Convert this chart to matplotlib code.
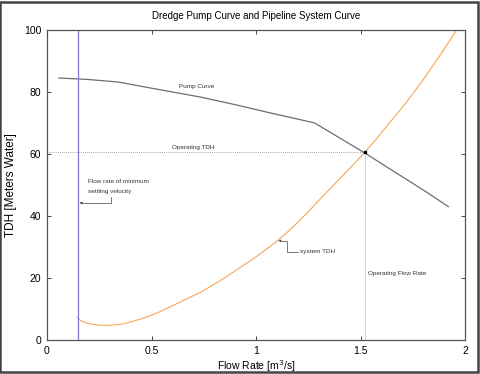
import numpy as np
import matplotlib
matplotlib.use('Agg')
import matplotlib.pyplot as plt
from matplotlib.patches import Rectangle

plt.rcParams['font.family'] = ['Liberation Sans', 'DejaVu Sans']

# pump curve
pump_q = [0.057, 0.2, 0.34, 0.5, 0.73, 0.9, 1.07, 1.28, 1.52, 1.82, 1.92]
pump_tdh = [84.5, 84.0, 83.2, 81.2, 78.4, 75.9, 73.2, 70.0, 60.3, 47.5, 43.0]

# pipeline system curve
sys_q = [0.145, 0.16, 0.18, 0.2, 0.22, 0.25, 0.28, 0.31, 0.35, 0.4, 0.45, 0.5,
         0.55, 0.6, 0.66, 0.73, 0.8, 0.86, 0.92, 1.0, 1.05, 1.1, 1.15, 1.2,
         1.25, 1.3, 1.35, 1.4, 1.46, 1.52, 1.58, 1.65, 1.72, 1.8, 1.88, 1.96]
sys_tdh = [7.2, 6.3, 5.7, 5.3, 5.0, 4.8, 4.7, 4.8, 5.0, 5.8, 6.8, 8.0,
           9.4, 11.0, 13.0, 15.2, 18.0, 20.5, 23.2, 26.8, 29.3, 31.9, 34.8, 38.0,
           41.4, 45.0, 48.5, 52.0, 56.2, 60.5, 65.2, 71.0, 76.7, 84.0, 91.8, 100.0]

min_settling_q = 0.15
op_q, op_tdh = 1.52, 60.5

fig = plt.figure(figsize=(4.81, 3.74), dpi=100)
ax = fig.add_axes([0.0977, 0.091, 0.8693, 0.829])

ax.plot(pump_q, pump_tdh, color='#6e6e6e', lw=0.9)
ax.plot(sys_q, sys_tdh, color='#f7a65a', lw=0.8)
ax.axvline(min_settling_q, color='#7b7bdc', lw=0.9)
ax.plot([0, op_q], [op_tdh, op_tdh], color='#888888', lw=0.6, ls=(0, (1, 1.5)))
ax.plot([op_q, op_q], [0, op_tdh], color='#888888', lw=0.6, ls=(0, (1, 1.5)))
ax.plot([op_q], [op_tdh], 's', color='black', ms=1.8)

fs = 4.6
ax.text(0.63, 81.6, 'Pump Curve', fontsize=fs, color='#333333', va='center')
ax.text(0.60, 62.0, 'Operating TDH', fontsize=fs, color='#333333', va='center')
ax.text(0.195, 51.0, 'Flow rate of minimum', fontsize=fs, color='#333333', va='center')
ax.text(0.195, 48.0, 'settling velocity', fontsize=fs, color='#333333', va='center')
ax.plot([0.306, 0.306, 0.165], [46.2, 44.2, 44.2], color='#444444', lw=0.5)
ax.annotate('', xy=(0.157, 44.2), xytext=(0.175, 44.2),
            arrowprops=dict(arrowstyle='-|>', color='#444444', lw=0.5,
                            mutation_scale=3))
ax.text(1.21, 28.4, 'system TDH', fontsize=fs, color='#333333', va='center')
ax.plot([1.20, 1.148, 1.148, 1.118], [28.4, 28.4, 32.0, 32.0], color='#444444', lw=0.5)
ax.annotate('', xy=(1.108, 32.0), xytext=(1.125, 32.0),
            arrowprops=dict(arrowstyle='-|>', color='#444444', lw=0.5,
                            mutation_scale=3))
ax.text(1.535, 21.3, 'Operating Flow Rate', fontsize=fs, color='#333333', va='center')

ax.set_xlim(0, 2)
ax.set_ylim(0, 100)
ax.set_xticks([0, 0.5, 1, 1.5, 2])
ax.set_xticklabels(['0', '0.5', '1', '1.5', '2'])
ax.set_yticks([0, 20, 40, 60, 80, 100])
ax.tick_params(direction='in', top=True, right=True, length=3, width=0.7,
               labelsize=7.5, colors='#444444', labelcolor='black', pad=4)
for s in ax.spines.values():
    s.set_color('#555555')
    s.set_linewidth(0.9)

ax.set_title('Dredge Pump Curve and Pipeline System Curve', fontsize=7, pad=8)
ax.set_ylabel('TDH [Meters Water]', fontsize=8.5, labelpad=5)
ax.set_xlabel('Flow Rate [m$^3$/s]', fontsize=7.5, labelpad=2)

fig.patches.append(Rectangle((0.001, 0.005), 0.992, 0.989, transform=fig.transFigure,
                             fill=False, edgecolor='#444444', lw=1.8))

fig.savefig('out.png', dpi=100)
